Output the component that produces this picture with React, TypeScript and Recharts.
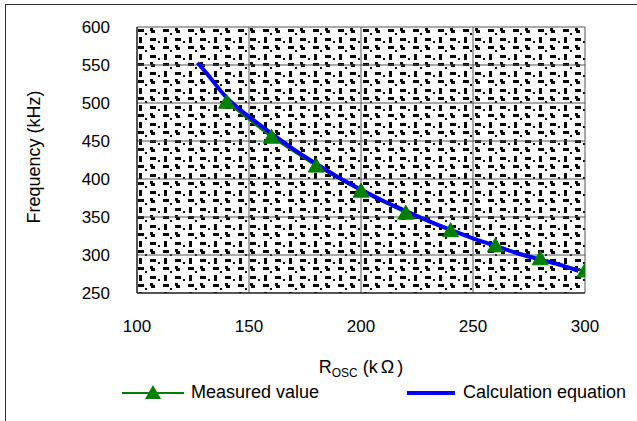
import React from 'react';
import { ComposedChart, Line, XAxis, YAxis, CartesianGrid } from 'recharts';

const measuredR = [140, 160, 180, 200, 220, 240, 260, 280, 300];
const measuredF = [501, 455, 417, 384, 355, 332, 312, 295, 279];

const calcR = [127, 130, 140, 150, 160, 170, 180, 190, 200, 210, 220, 230, 240, 250, 260, 270, 280, 290, 297];
const calcF = [553, 543, 507, 482, 460, 439, 420, 402, 386, 371, 358, 345, 333, 322, 312, 302, 294, 286, 279];

const xTicks = [100, 150, 200, 250, 300];
const yTicks = [250, 300, 350, 400, 450, 500, 550, 600];

const seriesNames = ['Measured value', 'Calculation equation'];
const seriesColors = ['#008000', '#0000FF'];

const measuredData = measuredR.map((x, i) => ({ x, y: measuredF[i] }));
const calcData = calcR.map((x, i) => ({ x, y: calcF[i] }));

const FONT = '"Liberation Sans", Arial, sans-serif';

const Triangle = (props: any) => {
  const { cx, cy } = props;
  if (cx == null || cy == null) return null;
  return <path d={`M${cx},${cy - 8} L${cx + 8},${cy + 6} L${cx - 8},${cy + 6} Z`} fill="#008000" stroke="#008000" strokeWidth={1} />;
};

const XLabel = (props: any) => {
  const vb = props.viewBox || {};
  const cx = vb.x + vb.width / 2;
  return (
    <text x={cx} y={vb.y + 80} textAnchor="middle" fontFamily={FONT} fontSize={18} fill="#000">
      <tspan>R</tspan>
      <tspan fontSize={12} dy={4}>OSC</tspan>
      <tspan dy={-4} dx={5}>(k</tspan>
      <tspan dx={3}>Ω</tspan>
      <tspan dx={3}>)</tspan>
    </text>
  );
};

const YLabel = (props: any) => {
  const vb = props.viewBox || {};
  const x = 40;
  const y = vb.y + vb.height / 2 - 3;
  return (
    <text x={x} y={y} transform={`rotate(-90 ${x} ${y})`} textAnchor="middle" fontFamily={FONT} fontSize={18} fill="#000">
      Frequency (kHz)
    </text>
  );
};

export default function App() {
  return (
    <div style={{ position: 'absolute', left: 0, top: 0, width: 637, height: 421, background: '#fff', overflow: 'hidden' }}>
      <div style={{ position: 'absolute', left: 5, top: 4, width: 700, height: 500, borderLeft: '1px solid #333', borderTop: '1px solid #333' }} />
      <ComposedChart width={637} height={421} margin={{ top: 27, right: 52, left: 0, bottom: 0 }} style={{ position: 'absolute', left: 0, top: 0 }}>
        <defs>
          <pattern id="dashpat" patternUnits="userSpaceOnUse" width={25} height={17} x={137} y={27}>
            <rect x={0} y={0} width={25} height={17} fill="#fff" />
            <rect x={1} y={2} width={6} height={3} fill="#000" />
            <rect x={13} y={1} width={3} height={3} fill="#000" />
            <rect x={14} y={3} width={4} height={3} fill="#000" />
            <rect x={2} y={10} width={3} height={6} fill="#000" />
            <rect x={13} y={11} width={6} height={3} fill="#000" />
            <rect x={8} y={6} width={2} height={2} fill="#000" />
            <rect x={21} y={14} width={2} height={2} fill="#000" />
          </pattern>
        </defs>
        <CartesianGrid fill="url(#dashpat)" fillOpacity={1} stroke="#555" strokeWidth={1} horizontalValues={yTicks} verticalValues={xTicks} />
        <XAxis
          type="number"
          dataKey="x"
          domain={[100, 300]}
          ticks={xTicks}
          allowDataOverflow
          tickSize={0}
          tickMargin={27}
          height={128}
          axisLine={{ stroke: '#000' }}
          tick={{ fontFamily: FONT, fontSize: 17, fill: '#000' }}
          label={<XLabel />}
        />
        <YAxis
          type="number"
          domain={[250, 600]}
          ticks={yTicks}
          allowDataOverflow
          tickSize={0}
          tickMargin={27}
          width={137}
          axisLine={{ stroke: '#000' }}
          tick={{ fontFamily: FONT, fontSize: 17, fill: '#000' }}
          label={<YLabel />}
        />
        <Line data={measuredData} dataKey="y" type="linear" stroke={seriesColors[0]} strokeWidth={2} dot={false} isAnimationActive={false} />
        <Line data={calcData} dataKey="y" type="monotone" stroke={seriesColors[1]} strokeWidth={4} dot={false} isAnimationActive={false} />
        <Line data={measuredData} dataKey="y" type="linear" stroke="none" dot={<Triangle />} isAnimationActive={false} legendType="none" />
      </ComposedChart>
      <div style={{ position: 'absolute', left: 0, top: 382, width: 637, height: 24, fontFamily: FONT, fontSize: 18, color: '#000' }}>
        <svg style={{ position: 'absolute', left: 122, top: 0 }} width={62} height={22}>
          <line x1={0} y1={11} x2={62} y2={11} stroke={seriesColors[0]} strokeWidth={2} />
          <path d="M31,3 L39,17 L23,17 Z" fill={seriesColors[0]} />
        </svg>
        <span style={{ position: 'absolute', left: 191, top: 0, whiteSpace: 'nowrap' }}>{seriesNames[0]}</span>
        <svg style={{ position: 'absolute', left: 407, top: 0 }} width={48} height={22}>
          <line x1={0} y1={11} x2={48} y2={11} stroke={seriesColors[1]} strokeWidth={4} />
        </svg>
        <span style={{ position: 'absolute', left: 463, top: 0, whiteSpace: 'nowrap' }}>{seriesNames[1]}</span>
      </div>
    </div>
  );
}
